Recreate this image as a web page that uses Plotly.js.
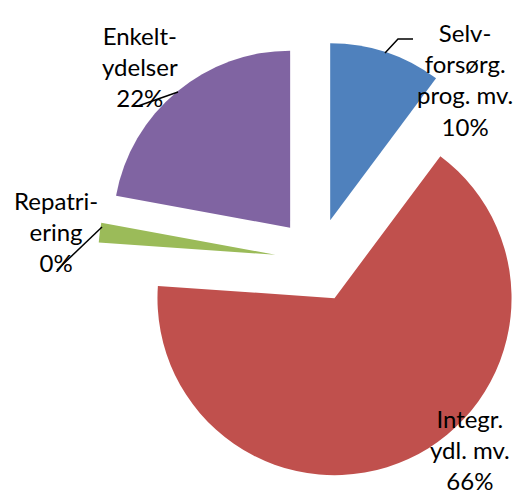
<!DOCTYPE html>
<html>
<head>
<meta charset="utf-8">
<script src="https://cdn.plot.ly/plotly-3.0.1.min.js"></script>
<style>
html, body { margin: 0; padding: 0; overflow: hidden; background: #fff; }
#chart { width: 537px; height: 495px; }
</style>
</head>
<body>
<div id="chart"></div>
<script>
// Data
const categories = ['Selv-<br>forsørg.<br>prog. mv.', 'Integr.<br>ydl. mv.', 'Repatri-<br>ering', 'Enkelt-<br>ydelser'];
const shares = [10.2, 65.9, 1.8, 22.1];
const pctLabels = ['10%', '66%', '0%', '22%'];
const colors = ['#4F81BD', '#C0504D', '#9BBB59', '#8064A2'];

// Layout geometry (pixels)
const W = 537, H = 495;
const M = {l: 98, r: 1, t: 41, b: 16};
const pw = W - M.l - M.r, ph = H - M.t - M.b;
const px = x => (x - M.l) / pw;
const py = y => 1 - (y - M.t) / ph;

// label centres (pixels) and leader lines (pixels)
const labelPos = [[465, 79], [470, 449], [56, 231], [140, 67]];
const leaders = [
  [[413, 39], [398, 39], [385, 53]],
  null,
  [[102, 227], [57, 270]],
  [[178, 92], [138, 106]]
];

const annotations = categories.map((c, i) => ({
  xref: 'paper', yref: 'paper',
  x: px(labelPos[i][0]), y: py(labelPos[i][1]),
  xanchor: 'center', yanchor: 'middle',
  text: c + '<br>' + pctLabels[i],
  showarrow: false, align: 'center',
  font: {family: 'Lato, "Open Sans", sans-serif', size: 24, color: '#000'}
}));

const shapes = leaders.filter(l => l).map(pts => ({
  type: 'path', xref: 'paper', yref: 'paper',
  path: pts.map((p, j) => (j ? 'L' : 'M') + px(p[0]) + ',' + py(p[1])).join(' '),
  line: {color: '#000', width: 1.5}
}));

const trace = {
  type: 'pie',
  labels: categories,
  values: shares,
  sort: false,
  direction: 'clockwise',
  rotation: 0,
  pull: [0.237, 0.237, 0.237, 0.237],
  marker: {colors: colors, line: {width: 0}},
  textinfo: 'none',
  hoverinfo: 'none',
  showlegend: false
};

Plotly.newPlot('chart', [trace], {
  width: W, height: H,
  margin: M,
  paper_bgcolor: '#fff',
  plot_bgcolor: '#fff',
  showlegend: false,
  annotations: annotations,
  shapes: shapes
}, {displayModeBar: false, staticPlot: true});
</script>
</body>
</html>
